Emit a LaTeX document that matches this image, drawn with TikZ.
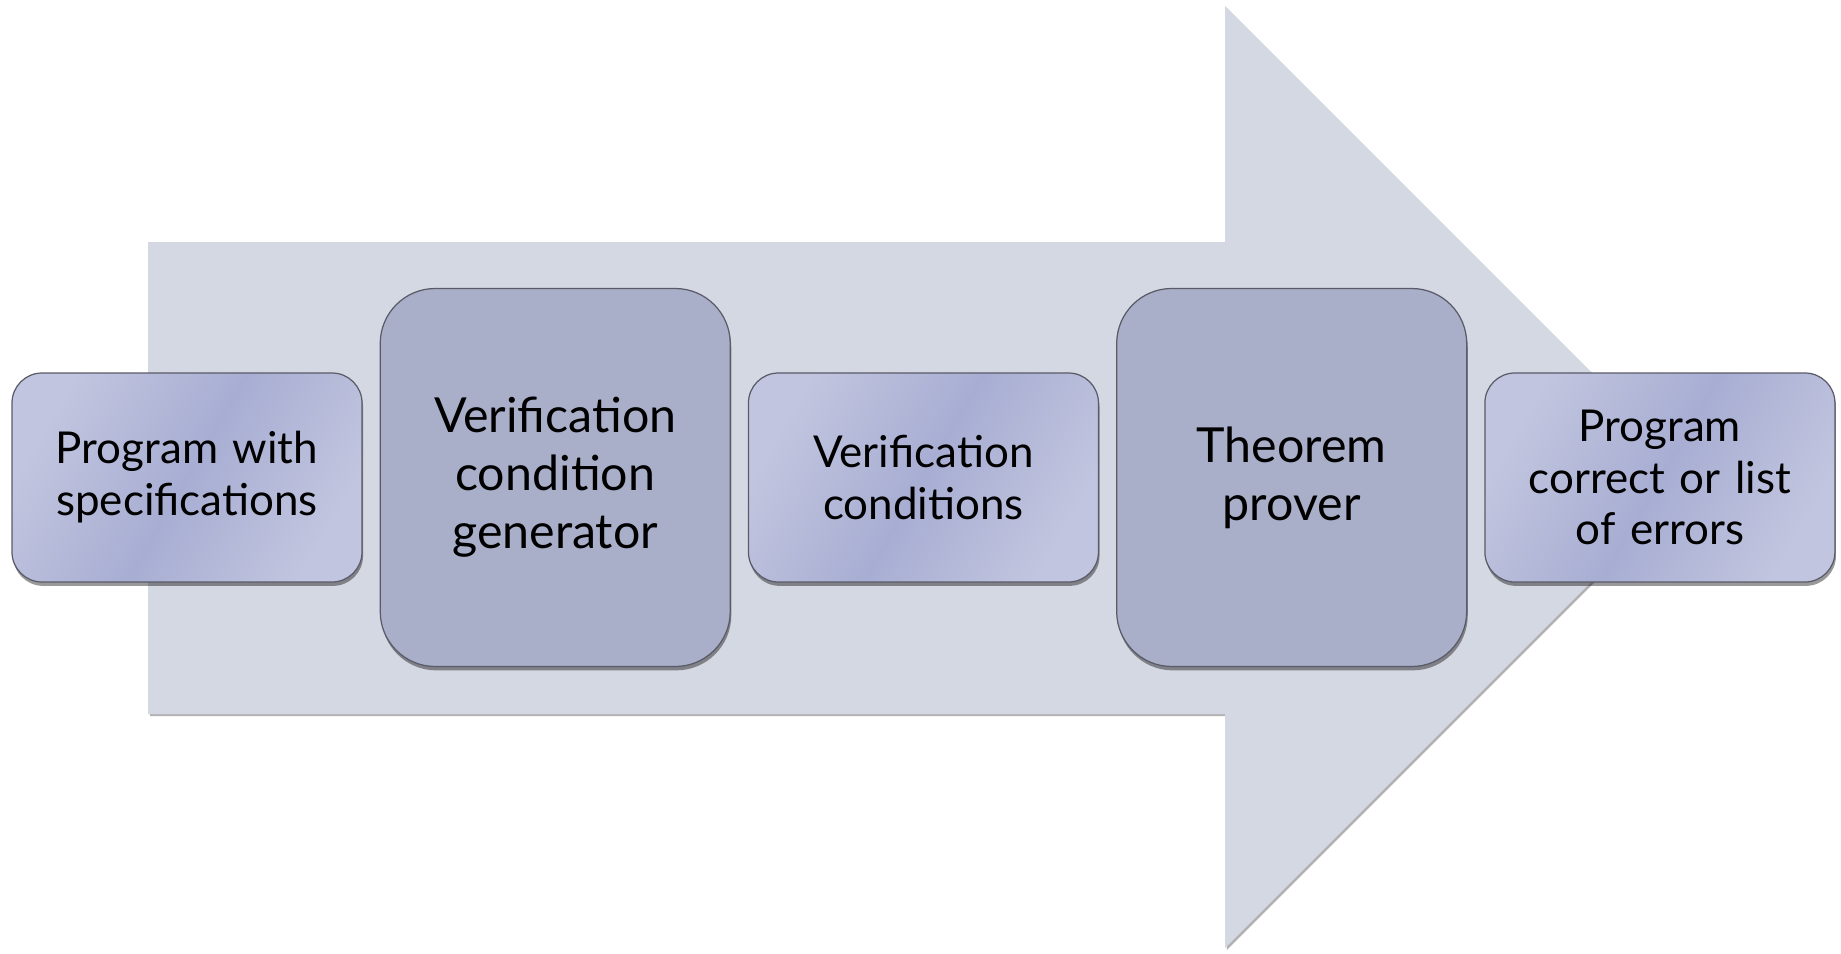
\documentclass[tikz,border=0pt]{standalone}
\usepackage{fontspec}
\setmainfont{Lato}
\usepackage{xcolor}
\usetikzlibrary{positioning,shadows}
\definecolor{arrowfill}{HTML}{D4D8E2}
\definecolor{bigfill}{HTML}{AAAFC9}
\definecolor{edgefill}{HTML}{C1C5DF}
\definecolor{midfill}{HTML}{A8AED3}
\definecolor{boxline}{HTML}{5A5A68}

\begin{document}
\begin{tikzpicture}[node distance=0.34cm,
        basebox/.style={draw=boxline, line width=0.7pt, minimum width=7cm, text width=6.7cm, align=center, drop shadow={shadow xshift=0.6pt, shadow yshift=-2.2pt, opacity=0.4, fill=black}},
        smallbox/.style={basebox, rounded corners=0.6cm, minimum height=4.18cm, font=\fontsize{25}{29.5}\selectfont, left color=edgefill, right color=edgefill, middle color=midfill, shading angle=60},
        bigbox/.style={basebox, rounded corners=1.1cm, minimum height=7.56cm, fill=bigfill, font=\fontsize{27.5}{33}\selectfont},
        bigarrow/.style={fill=arrowfill, drop shadow={shadow xshift=1pt, shadow yshift=-1.2pt, opacity=0.3, fill=black}}
    ]
        \useasboundingbox (0,0) rectangle (36.82,-19.08);

        \fill [bigarrow] (2.96,-4.84) -- (24.5,-4.84) -- (24.5,-0.12) -- (33.92,-9.54) -- (24.5,-18.96) -- (24.5,-14.28) -- (2.96,-14.28) -- cycle;

        \node [smallbox] (prog) at (3.74,-9.55) {Program with\\specifications};
        \node [bigbox, right=of prog] (vcgen) {Verification\\condition\\generator};
        \node [smallbox, right=of vcgen] (vcs) {Verification\\conditions};
        \node [bigbox, right=of vcs] (prover) {Theorem\\prover};
        \node [smallbox, right=of prover] (result) {Program\\correct or list\\of errors};

    \end{tikzpicture}
\end{document}
